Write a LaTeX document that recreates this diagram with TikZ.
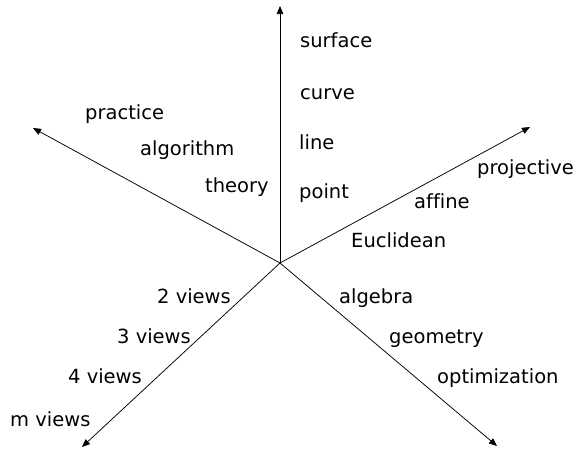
\documentclass[tikz,border=0pt]{standalone}
\usepackage{fontspec}
\setmainfont[Ligatures=NoCommon]{DejaVu Sans}
\usepackage{tikz}
\usetikzlibrary{arrows.meta}

\begin{document}
\begin{tikzpicture}[
    x=1pt, y=-1pt,
    lbl/.style={
      anchor=base west, inner sep=0pt,
      font=\fontsize{19.5}{23}\selectfont
    },
    axis/.style={-{Triangle[length=8pt,width=6.5pt]}, line width=0.75pt, color=black}
  ]
    \useasboundingbox (0,0) rectangle (579,451);

    \coordinate (o)   at (280,263);
    \coordinate (up)  at (280,6);
    \coordinate (lu)  at (33,128);
    \coordinate (ru)  at (530,127);
    \coordinate (ld)  at (82,447);
    \coordinate (rd)  at (497,446);

    \draw[axis] (o) -- (up);
    \draw[axis] (o) -- (lu);
    \draw[axis] (o) -- (ru);
    \draw[axis] (o) -- (ld);
    \draw[axis] (o) -- (rd);

    % vertical axis
    \node[lbl] (surface) at (300,47)  {surface};
    \node[lbl] (curve)   at (300,99)  {curve};
    \node[lbl] (line)    at (299,149) {line};
    \node[lbl] (point)   at (299,198) {point};

    % upper left
    \node[lbl] (practice)  at (85,119)  {practice};
    \node[lbl] (algorithm) at (140,155) {algorithm};
    \node[lbl] (theory)    at (205,192) {theory};

    % upper right
    \node[lbl] (projective) at (477,174) {projective};
    \node[lbl] (affine)     at (414,208) {affine};
    \node[lbl] (euclid)     at (351,247) {Euclidean};

    % lower left
    \node[lbl] (two)   at (157,303) {2 views};
    \node[lbl] (three) at (117,343) {3 views};
    \node[lbl] (four)  at (68,383)  {4 views};
    \node[lbl] (many)  at (10,426)  {m views};

    % lower right
    \node[lbl] (algebra)  at (339,303) {algebra};
    \node[lbl] (geometry) at (389,343) {geometry};
    \node[lbl] (optim)    at (437,383) {optimization};
  \end{tikzpicture}
\end{document}
